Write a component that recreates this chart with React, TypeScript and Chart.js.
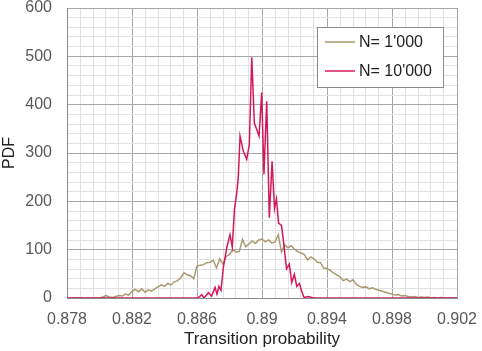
import React, { useEffect, useRef } from "react";
import { Chart, registerables } from "chart.js";
Chart.register(...registerables);

const FONT = "'Liberation Sans', Arial, sans-serif";

const seriesLabels = ["N= 1'000", "N= 10'000"];
const seriesColors = ["#a99a72", "#d4185c"];

// N = 1'000
const tanX = [
  0.878, 0.88, 0.8802, 0.8804, 0.8806, 0.8808, 0.881, 0.8812, 0.8814, 0.8816, 0.8818,
  0.882, 0.8822, 0.8824, 0.8826, 0.8828, 0.883, 0.8832, 0.8834, 0.8836, 0.8838,
  0.884, 0.8842, 0.8844, 0.8846, 0.8848, 0.885, 0.8852, 0.8854, 0.8856, 0.8858,
  0.886, 0.8862, 0.8864, 0.8866, 0.8868, 0.887, 0.8872, 0.8874, 0.8876, 0.8878,
  0.888, 0.8882, 0.8884, 0.8886, 0.8888, 0.889, 0.8892, 0.8894, 0.8896, 0.8898,
  0.89, 0.8902, 0.8904, 0.8906, 0.8908, 0.891, 0.8912, 0.8914, 0.8916, 0.8918,
  0.892, 0.8922, 0.8924, 0.8926, 0.8928, 0.893, 0.8932, 0.8934, 0.8936, 0.8938,
  0.894, 0.8942, 0.8944, 0.8946, 0.8948, 0.895, 0.8952, 0.8954, 0.8956, 0.8958,
  0.896, 0.8962, 0.8964, 0.8966, 0.8968, 0.897, 0.8972, 0.8974, 0.8976, 0.8978,
  0.898, 0.8982, 0.8984, 0.8986, 0.8988, 0.899, 0.8992, 0.8994, 0.8996, 0.8998,
  0.9, 0.9002, 0.9004, 0.9006, 0.9008, 0.901, 0.9012, 0.902,
];
const tanY = [
  0, 0, 2, 5, 2, 1, 3, 5, 4, 8, 6,
  14, 18, 13, 19, 12, 17, 14, 19, 23, 27,
  24, 30, 27, 33, 36, 42, 52, 48, 46, 40,
  66, 68, 69, 73, 74, 78, 62, 81, 70, 86,
  90, 100, 95, 96, 121, 106, 112, 118, 113, 120,
  122, 116, 120, 114, 116, 131, 95, 110, 104, 108,
  101, 96, 93, 90, 79, 85, 81, 74, 73, 62,
  61, 57, 52, 48, 44, 36, 39, 34, 38, 28,
  24, 22, 23, 19, 21, 18, 16, 14, 12, 10,
  8, 6, 7, 4, 5, 3, 2, 3, 1, 2,
  1, 2, 0, 1, 0, 1, 0, 0,
];

// N = 10'000
const redX = [
  0.878, 0.88606, 0.88629, 0.88643, 0.8867, 0.8869, 0.88711, 0.88723, 0.88735, 0.88748,
  0.88762, 0.88783, 0.88803, 0.88817, 0.88831, 0.88844, 0.88854, 0.88865, 0.88885, 0.88906,
  0.88922, 0.88937, 0.88953, 0.88967, 0.88982, 0.88998, 0.89012, 0.89029, 0.89045, 0.89062,
  0.89077, 0.89089, 0.89102, 0.8912, 0.89132, 0.89151, 0.89168, 0.89183, 0.89199, 0.89214,
  0.8923, 0.89246, 0.89259, 0.89285, 0.89306, 0.8932, 0.902,
];
const redY = [
  0, 0, 7, 0, 11, 4, 22, 8, 24, 16,
  63, 104, 131, 106, 185, 215, 250, 335, 304, 287,
  318, 498, 362, 349, 335, 425, 256, 407, 166, 283,
  185, 205, 155, 150, 118, 60, 70, 32, 49, 24,
  30, 12, 1, 3, 1, 0, 0,
];

const xMin = 0.878;
const xMax = 0.902;
const xMajor = 0.004;
const xMinor = 0.0008;
const yMin = 0;
const yMax = 600;
const yMajor = 100;
const yMinor = 20;

const isMult = (v: number, base: number, step: number) => {
  const r = (v - base) / step;
  return Math.abs(r - Math.round(r)) < 1e-4;
};

const legendPlugin = {
  id: "boxLegend",
  afterDraw(chart: any) {
    const { ctx, chartArea } = chart;
    const bx = chartArea.right - 140;
    const by = chartArea.top + 19;
    const bw = 126;
    const bh = 60;
    ctx.save();
    ctx.fillStyle = "#ffffff";
    ctx.fillRect(bx, by, bw, bh);
    ctx.strokeStyle = "#8c8c8c";
    ctx.lineWidth = 1;
    ctx.strokeRect(bx + 0.5, by + 0.5, bw, bh);
    chart.data.datasets.forEach((ds: any, i: number) => {
      const y = by + 15 + i * 29;
      ctx.strokeStyle = ds.borderColor;
      ctx.lineWidth = 1.5;
      ctx.beginPath();
      ctx.moveTo(bx + 8, y);
      ctx.lineTo(bx + 38, y);
      ctx.stroke();
      ctx.fillStyle = "#222222";
      ctx.font = `16px ${FONT}`;
      ctx.textBaseline = "middle";
      ctx.textAlign = "left";
      ctx.fillText(ds.label, bx + 42, y + 1);
    });
    ctx.restore();
  },
};

export default function App() {
  const ref = useRef<HTMLCanvasElement | null>(null);
  useEffect(() => {
    document.body.style.margin = "0";
    const canvas = ref.current;
    if (!canvas) return;
    const chart = new Chart(canvas, {
      type: "line",
      data: {
        datasets: [
          {
            label: seriesLabels[0],
            data: tanX.map((x, i) => ({ x, y: tanY[i] })),
            borderColor: seriesColors[0],
            backgroundColor: seriesColors[0],
            borderWidth: 1.5,
            pointRadius: 0,
            tension: 0,
            order: 1,
          },
          {
            label: seriesLabels[1],
            data: redX.map((x, i) => ({ x, y: redY[i] })),
            borderColor: seriesColors[1],
            backgroundColor: seriesColors[1],
            borderWidth: 1.5,
            pointRadius: 0,
            tension: 0,
            order: 0,
          },
        ],
      },
      options: {
        responsive: false,
        animation: false,
        layout: { padding: { top: 8, right: 25, left: 0, bottom: 0 } },
        plugins: { legend: { display: false }, tooltip: { enabled: false } },
        scales: {
          x: {
            type: "linear",
            min: xMin,
            max: xMax,
            afterFit: (s: any) => {
              s.height = 53;
              s.paddingLeft = 0;
              s.paddingRight = 0;
            },
            ticks: {
              stepSize: xMinor,
              autoSkip: false,
              maxRotation: 0,
              padding: 12,
              color: "#595959",
              font: { family: FONT, size: 16 },
              callback: (v: any) =>
                isMult(Number(v), xMin, xMajor) ? String(parseFloat(Number(v).toFixed(4))) : "",
            },
            grid: {
              drawTicks: false,
              color: (c: any) => (isMult(c.tick.value, xMin, xMajor) ? "#a6a6a6" : "#e2e2e2"),
              lineWidth: 1,
            },
            border: { color: "#8a8a8a" },
            title: {
              display: true,
              text: "Transition probability",
              color: "#222222",
              font: { family: FONT, size: 17 },
              padding: { top: 0, bottom: 1 },
            },
          },
          y: {
            min: yMin,
            max: yMax,
            afterFit: (s: any) => {
              s.width = 67;
              s.paddingTop = 0;
              s.paddingBottom = 0;
            },
            ticks: {
              stepSize: yMinor,
              autoSkip: false,
              padding: 15,
              color: "#595959",
              font: { family: FONT, size: 16 },
              callback: (v: any) => (isMult(Number(v), yMin, yMajor) ? String(v) : ""),
            },
            grid: {
              drawTicks: false,
              color: (c: any) => (isMult(c.tick.value, yMin, yMajor) ? "#a6a6a6" : "#e2e2e2"),
              lineWidth: 1,
            },
            border: { color: "#8a8a8a" },
            title: {
              display: true,
              text: "PDF",
              color: "#222222",
              font: { family: FONT, size: 16 },
              padding: { top: 0, bottom: 0 },
            },
          },
        },
      },
      plugins: [legendPlugin],
    } as any);
    return () => chart.destroy();
  }, []);
  return (
    <div style={{ width: 482, height: 351 }}>
      <canvas ref={ref} width={482} height={351} style={{ display: "block" }} />
    </div>
  );
}
